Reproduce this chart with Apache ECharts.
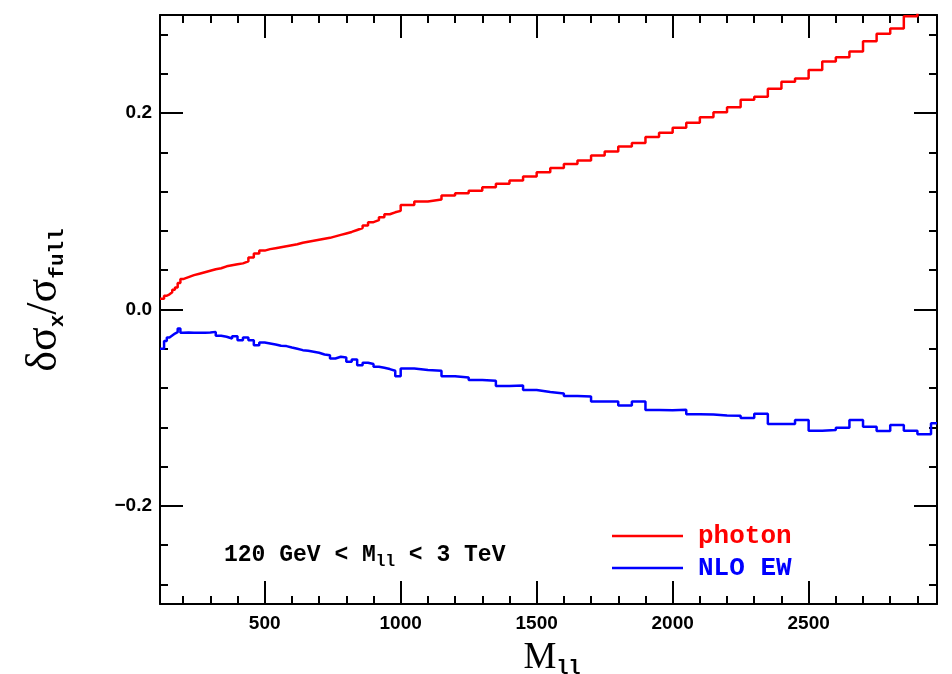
<!DOCTYPE html>
<html><head><meta charset="utf-8">
<script src="https://cdn.jsdelivr.net/npm/echarts@6/dist/echarts.min.js"></script>
<style>html,body{margin:0;padding:0;background:#fff}#c{width:952px;height:674px}</style>
</head><body><div id="c"></div>
<script>
// bin low edges (GeV), last entry = upper end of the last bin
const binEdges = [115,130,140,150,160,170,180,190,
 200,220,240,260,280,300,320,340,360,380,400,420,440,460,480,500,520,540,560,580,600,620,640,660,680,700,720,740,760,780,800,820,840,860,880,900,920,940,960,980,
 1000,1050,1100,1150,1200,1250,1300,1350,1400,1450,1500,1550,1600,1650,1700,1750,1800,1850,1900,1950,
 2000,2050,2100,2150,2200,2250,2300,2350,2400,2450,2500,2550,2600,2650,2700,2750,2800,2850,2900,2950,
 2972];
const photon = [0.011,0.014,0.0155,0.0175,0.020,0.0225,0.027,0.031,
 0.033,0.035,0.0365,0.038,0.0395,0.041,0.042,0.044,0.045,0.046,0.047,0.049,0.053,0.057,0.060,0.0615,0.0625,0.0635,0.0645,0.0655,
 0.0665,0.068,0.069,0.070,0.071,0.072,0.073,0.0745,0.076,0.0775,0.079,0.081,0.083,0.0855,0.089,0.091,0.094,0.097,0.099,0.1005,
 0.1064,0.1101,0.1121,0.1162,0.1185,0.1209,0.1246,0.1280,0.1314,0.1355,
 0.1399,0.1441,0.1481,0.1519,0.1570,0.1610,0.1661,0.1695,0.1756,0.1800,
 0.1851,0.1902,0.1959,0.2010,0.2061,0.2136,0.2167,0.2248,0.2319,0.2353,
 0.2441,0.2526,0.2570,0.2628,0.2733,0.2808,0.2862,0.2987,0.3100,0.3150];
const nloEW = [-0.040,-0.032,-0.0285,-0.0265,-0.0245,-0.0231,-0.0194,-0.0238,
 -0.0234,-0.0238,-0.0238,-0.0238,-0.0234,-0.0228,-0.0268,-0.0278,-0.0295,-0.0272,-0.0312,-0.0285,-0.0312,-0.0363,-0.0336,-0.0346,
 -0.0356,-0.0370,-0.0373,-0.0387,-0.0400,-0.0414,-0.0421,-0.0431,-0.0441,-0.0458,-0.0465,-0.0499,-0.0482,-0.0489,-0.0533,-0.0509,
 -0.0567,-0.0543,-0.0556,-0.0584,-0.0594,-0.0607,-0.0624,-0.0679,
 -0.0600,-0.0617,-0.0624,-0.0679,-0.0692,-0.0719,-0.0726,-0.0780,-0.0773,-0.0820,
 -0.0840,-0.0855,-0.0880,-0.0885,-0.0936,-0.0938,-0.0977,-0.0936,-0.1024,-0.1027,
 -0.1020,-0.1066,-0.1069,-0.1080,-0.1082,-0.1106,-0.1062,-0.1167,-0.1167,-0.1126,
 -0.1235,-0.1228,-0.1204,-0.1126,-0.1194,-0.1238,-0.1177,-0.1235,-0.1270,-0.1160];
const xMajorTicks = [500,1000,1500,2000,2500];
const xMinorTicks = [200,300,400,600,700,800,900,1100,1200,1300,1400,1600,1700,1800,1900,2100,2200,2300,2400,2600,2700,2800,2900];
const yMajorTicks = [-0.2,0,0.2];
const yMinorTicks = [-0.28,-0.24,-0.16,-0.12,-0.08,-0.04,0.04,0.08,0.12,0.16,0.24,0.28];
const xRange = [115, 2972];
const yRange = [-0.3, 0.3];

function toSteps(vals){
  const d = vals.map((v,i)=>[binEdges[i], v]);
  d.push([binEdges[binEdges.length-1], vals[vals.length-1]]);
  return d;
}
const black = '#000';
const labelFont = {color: black, fontFamily: '"Liberation Sans", Arial, sans-serif', fontWeight: 'bold', fontSize: 19};
function xAx(pos, ticks, len, line, labels){
  return {type:'value', position:pos, min:xRange[0], max:xRange[1],
    axisLine:{show:line, onZero:false, lineStyle:{color:black, width:2}},
    axisTick:{show:true, inside:true, length:len, customValues:ticks, lineStyle:{color:black, width:2}},
    axisLabel: labels ? Object.assign({show:true, customValues:xMajorTicks, margin:10,
      formatter: v => String(Math.round(v))}, labelFont) : {show:false},
    splitLine:{show:false}};
}
function yAx(pos, ticks, len, line, labels){
  return {type:'value', position:pos, min:yRange[0], max:yRange[1],
    axisLine:{show:line, onZero:false, lineStyle:{color:black, width:2}},
    axisTick:{show:true, inside:true, length:len, customValues:ticks, lineStyle:{color:black, width:2}},
    axisLabel: labels ? Object.assign({show:true, customValues:yMajorTicks, margin:8,
      formatter: v => (v < -1e-9 ? '\u2212' : '') + Math.abs(v).toFixed(1)}, labelFont) : {show:false},
    splitLine:{show:false}};
}
const chart = echarts.init(document.getElementById('c'), null, {renderer:'canvas'});
chart.setOption({
  animation:false,
  backgroundColor:'#fff',
  grid:{left:160, right:15, top:15, bottom:70, containLabel:false},
  xAxis:[xAx('bottom', xMajorTicks, 23, true, true), xAx('bottom', xMinorTicks, 8, false, false),
         xAx('top', xMajorTicks, 23, true, false), xAx('top', xMinorTicks, 8, false, false)],
  yAxis:[yAx('left', yMajorTicks, 23, true, true), yAx('left', yMinorTicks, 8, false, false),
         yAx('right', yMajorTicks, 23, true, false), yAx('right', yMinorTicks, 8, false, false)],
  legend:{
    orient:'vertical', left:607, top:516, itemWidth:71, itemHeight:2.5, itemGap:2, selectedMode:false,
    textStyle:{fontFamily:'"Liberation Mono", monospace', fontWeight:'bold', fontSize:26, lineHeight:30, padding:[0,0,0,10]},
    data:[{name:'photon', icon:'rect', textStyle:{color:'#ff0000'}},
          {name:'NLO EW', icon:'rect', textStyle:{color:'#0000ff'}}]
  },
  series:[
    {name:'photon', type:'line', step:'end', data:toSteps(photon), showSymbol:false, symbol:'none',
     lineStyle:{color:'#ff0000', width:2.5}, itemStyle:{color:'#ff0000'}, clip:true, xAxisIndex:0, yAxisIndex:0},
    {name:'NLO EW', type:'line', step:'end', data:toSteps(nloEW), showSymbol:false, symbol:'none',
     lineStyle:{color:'#0000ff', width:2.5}, itemStyle:{color:'#0000ff'}, clip:true, xAxisIndex:0, yAxisIndex:0}
  ],
  graphic:[
    {type:'text', left:224, top:540, style:{
      text:'120 GeV < M{s|ll} < 3 TeV', fill:black,
      font:'bold 23px "Liberation Mono", monospace', lineHeight:30,
      rich:{s:{fontFamily:'"Liberation Mono", monospace', fontWeight:'bold', fontSize:16, verticalAlign:'bottom', lineHeight:18}}}},
    {type:'text', x:552, y:658, style:{
      text:'M{s|ll}', fill:black, align:'center', verticalAlign:'middle',
      font:'37px "Liberation Serif", serif', lineHeight:42,
      rich:{s:{fontFamily:'"Liberation Mono", monospace', fontWeight:'bold', fontSize:20, verticalAlign:'bottom', lineHeight:20}}}},
    {type:'text', x:44, y:300, rotation:Math.PI/2, style:{
      text:'\u03b4\u03c3{s|x}/\u03c3{s|full}', fill:black, align:'center', verticalAlign:'middle',
      font:'44px "Liberation Serif", serif', lineHeight:48,
      rich:{s:{fontFamily:'"Liberation Mono", monospace', fontWeight:'bold', fontSize:21, verticalAlign:'bottom', lineHeight:22}}}}
  ]
});
</script></body></html>
